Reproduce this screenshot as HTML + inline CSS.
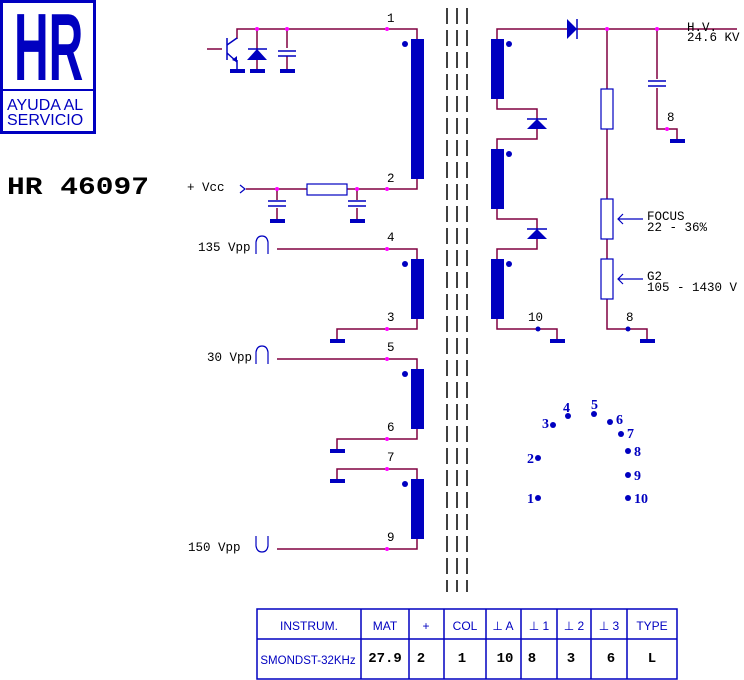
<!DOCTYPE html>
<html><head><meta charset="utf-8"><style>
body{margin:0;background:#fff}
svg{display:block}
.m{font-family:"Liberation Mono",monospace;font-size:12.5px;fill:#000}
.w{stroke:#800040;stroke-width:1.5;fill:none}
.b{fill:#0000c0}
.d{fill:#ff00ff}
.p{font-family:"Liberation Serif",serif;font-weight:bold;font-size:14px;fill:#0000c0}
.t{font-family:"Liberation Sans",sans-serif;font-size:12px;fill:#0000c0}
.n{font-family:"Liberation Mono",monospace;font-weight:bold;font-size:14px;fill:#000}
</style></head><body>
<svg width="744" height="680" viewBox="0 0 744 680">
<!-- logo -->
<rect x="1.5" y="1.5" width="93" height="131" fill="none" stroke="#0000c0" stroke-width="3"/>
<line x1="1" y1="90" x2="95" y2="90" stroke="#0000c0" stroke-width="2"/>
<text transform="translate(14,80) scale(0.5,1)" x="0" y="0" font-family="Liberation Sans,sans-serif" font-weight="bold" font-size="96" fill="#0000c0">HR</text>
<text x="7" y="110" font-family="Liberation Sans,sans-serif" font-size="16" fill="#0000c0">AYUDA AL</text>
<text x="7" y="125" font-family="Liberation Sans,sans-serif" font-size="16" fill="#0000c0">SERVICIO</text>
<text x="7" y="194" font-family="Liberation Mono,monospace" font-weight="bold" font-size="25" fill="#000" textLength="142" lengthAdjust="spacingAndGlyphs">HR 46097</text>

<!-- dashed core -->
<g stroke="#000" stroke-width="1.5" stroke-dasharray="16,6">
<line x1="447" y1="8" x2="447" y2="592"/><line x1="457" y1="8" x2="457" y2="592"/><line x1="467" y1="8" x2="467" y2="592"/>
</g>

<!-- primary -->
<path class="w" d="M237 39 V29 H417 V39 M417 179 V189 H246"/>
<line x1="207" y1="49" x2="222" y2="49" stroke="#800040" stroke-width="1.5"/>
<line x1="227" y1="38" x2="227" y2="60" stroke="#0000c0" stroke-width="1.5"/>
<line x1="227" y1="45" x2="237" y2="38" stroke="#0000c0" stroke-width="1.5"/>
<line x1="227" y1="53" x2="237" y2="62" stroke="#0000c0" stroke-width="1.5"/>
<polygon class="b" points="237,62 232,60 237,56"/>
<line x1="237" y1="60" x2="237" y2="69" stroke="#0000c0" stroke-width="1.5"/>
<rect class="b" x="230" y="69" width="15" height="4"/>
<line x1="257" y1="29" x2="257" y2="69" stroke="#800040" stroke-width="1.5"/>
<line x1="248" y1="49" x2="267" y2="49" stroke="#0000c0" stroke-width="1.5"/>
<polygon class="b" points="257,49 247,60 267,60"/>
<rect class="b" x="250" y="69" width="15" height="4"/>
<line x1="287" y1="29" x2="287" y2="69" stroke="#800040" stroke-width="1.5"/>
<rect x="277" y="48" width="20" height="8" fill="#fff"/>
<line x1="278" y1="51" x2="296" y2="51" stroke="#0000c0" stroke-width="1.5"/>
<line x1="278" y1="56" x2="296" y2="56" stroke="#0000c0" stroke-width="1.5"/>
<rect class="b" x="280" y="69" width="15" height="4"/>
<rect class="b" x="411" y="39" width="13" height="140"/>
<circle class="b" cx="405" cy="44" r="3"/>
<text class="m" x="387" y="22">1</text><text class="m" x="387" y="182">2</text>
<circle class="d" cx="257" cy="29" r="2"/><circle class="d" cx="287" cy="29" r="2"/><circle class="d" cx="387" cy="29" r="2"/>
<!-- Vcc -->
<text class="m" x="187" y="191">+ Vcc</text>
<path d="M240 185 L245 189 L240 193" stroke="#0000c0" stroke-width="1.2" fill="none"/>
<rect x="307" y="184" width="40" height="11" fill="#fff" stroke="#0000c0" stroke-width="1.2"/>
<path class="w" d="M277 189 V219 M357 189 V219"/>
<rect x="267" y="200" width="20" height="8" fill="#fff"/><rect x="347" y="200" width="20" height="8" fill="#fff"/>
<g stroke="#0000c0" stroke-width="1.5"><line x1="268" y1="201" x2="286" y2="201"/><line x1="268" y1="206" x2="286" y2="206"/><line x1="348" y1="201" x2="366" y2="201"/><line x1="348" y1="206" x2="366" y2="206"/></g>
<rect class="b" x="270" y="219" width="15" height="4"/><rect class="b" x="350" y="219" width="15" height="4"/>
<circle class="d" cx="277" cy="189" r="2"/><circle class="d" cx="357" cy="189" r="2"/><circle class="d" cx="387" cy="189" r="2"/>

<!-- winding 4-3 -->
<path class="w" d="M277 249 H417 V259 M417 319 V329 H337 V340"/>
<rect class="b" x="411" y="259" width="13" height="60"/><circle class="b" cx="405" cy="264" r="3"/>
<rect class="b" x="330" y="339" width="15" height="4"/>
<circle class="d" cx="387" cy="249" r="2"/><circle class="d" cx="387" cy="329" r="2"/>
<text class="m" x="387" y="241">4</text><text class="m" x="387" y="321">3</text>
<text class="m" x="198" y="251">135 Vpp</text>
<path d="M256 254 V242 Q257 236 262 236 Q267 236 268 242 V254" stroke="#0000c0" stroke-width="1.2" fill="none"/>
<!-- winding 5-6 -->
<path class="w" d="M277 359 H417 V369 M417 429 V439 H337 V450"/>
<rect class="b" x="411" y="369" width="13" height="60"/><circle class="b" cx="405" cy="374" r="3"/>
<rect class="b" x="330" y="449" width="15" height="4"/>
<circle class="d" cx="387" cy="359" r="2"/><circle class="d" cx="387" cy="439" r="2"/>
<text class="m" x="387" y="351">5</text><text class="m" x="387" y="431">6</text>
<text class="m" x="207" y="361">30 Vpp</text>
<path d="M256 364 V352 Q257 346 262 346 Q267 346 268 352 V364" stroke="#0000c0" stroke-width="1.2" fill="none"/>
<!-- winding 7-9 -->
<path class="w" d="M337 480 V469 H417 V479 M417 539 V549 H277"/>
<rect class="b" x="411" y="479" width="13" height="60"/><circle class="b" cx="405" cy="484" r="3"/>
<rect class="b" x="330" y="479" width="15" height="4"/>
<circle class="d" cx="387" cy="469" r="2"/><circle class="d" cx="387" cy="549" r="2"/>
<text class="m" x="387" y="461">7</text><text class="m" x="387" y="541">9</text>
<text class="m" x="188" y="551">150 Vpp</text>
<path d="M256 536 V546 Q257 552 262 552 Q267 552 268 546 V536" stroke="#0000c0" stroke-width="1.2" fill="none"/>

<!-- secondary -->
<path class="w" d="M497 39 V29 H737 M497 99 V109 H537 V139 H497 V149 M497 209 V219 H537 V249 H497 V259 M497 319 V329 H557 V340"/>
<rect class="b" x="491" y="39" width="13" height="60"/><rect class="b" x="491" y="149" width="13" height="60"/><rect class="b" x="491" y="259" width="13" height="60"/>
<circle class="b" cx="509" cy="44" r="3"/><circle class="b" cx="509" cy="154" r="3"/><circle class="b" cx="509" cy="264" r="3"/>
<polygon class="b" points="567,19 577,29 567,39"/><line x1="577" y1="19" x2="577" y2="39" stroke="#0000c0" stroke-width="1.5"/>
<line x1="527" y1="119" x2="547" y2="119" stroke="#0000c0" stroke-width="1.5"/><polygon class="b" points="537,119 527,129 547,129"/>
<line x1="527" y1="229" x2="547" y2="229" stroke="#0000c0" stroke-width="1.5"/><polygon class="b" points="537,229 527,239 547,239"/>
<rect class="b" x="550" y="339" width="15" height="4"/>
<circle class="b" cx="538" cy="329" r="2.5"/>
<text class="m" x="528" y="321">10</text>
<!-- resistor chain -->
<path class="w" d="M607 29 V329 H647 V340"/>
<rect x="601" y="89" width="12" height="40" fill="#fff" stroke="#0000c0" stroke-width="1.2"/>
<rect x="601" y="199" width="12" height="40" fill="#fff" stroke="#0000c0" stroke-width="1.2"/>
<rect x="601" y="259" width="12" height="40" fill="#fff" stroke="#0000c0" stroke-width="1.2"/>
<path d="M643 219 H618 M623 214 L618 219 L623 224 M643 279 H618 M623 274 L618 279 L623 284" stroke="#0000c0" stroke-width="1.2" fill="none"/>
<rect class="b" x="640" y="339" width="15" height="4"/>
<circle class="b" cx="628" cy="329" r="2.5"/><text class="m" x="626" y="321">8</text>
<circle class="d" cx="607" cy="29" r="2"/>
<!-- cap -->
<path class="w" d="M657 29 V129 H677 V140"/>
<rect x="647" y="79" width="20" height="9" fill="#fff"/>
<g stroke="#0000c0" stroke-width="1.5"><line x1="648" y1="81" x2="666" y2="81"/><line x1="648" y1="86" x2="666" y2="86"/></g>
<rect class="b" x="670" y="139" width="15" height="4"/>
<circle class="d" cx="657" cy="29" r="2"/><circle class="d" cx="667" cy="129" r="2"/>
<text class="m" x="667" y="121">8</text>
<text class="m" x="687" y="31">H.V.</text><text class="m" x="687" y="41">24.6 KV</text>
<text class="m" x="647" y="220">FOCUS</text><text class="m" x="647" y="231">22 - 36%</text>
<text class="m" x="647" y="280">G2</text><text class="m" x="647" y="291">105 - 1430 V</text>

<!-- pinout -->
<g class="b">
<circle cx="538" cy="498" r="3"/><circle cx="538" cy="458" r="3"/><circle cx="553" cy="425" r="3"/><circle cx="568" cy="416" r="3"/><circle cx="594" cy="414" r="3"/><circle cx="610" cy="422" r="3"/><circle cx="621" cy="434" r="3"/><circle cx="628" cy="451" r="3"/><circle cx="628" cy="475" r="3"/><circle cx="628" cy="498" r="3"/>
</g>
<text class="p" x="527" y="503">1</text><text class="p" x="527" y="463">2</text><text class="p" x="542" y="428">3</text><text class="p" x="563" y="412">4</text><text class="p" x="591" y="409">5</text><text class="p" x="616" y="424">6</text><text class="p" x="627" y="438">7</text><text class="p" x="634" y="456">8</text><text class="p" x="634" y="480">9</text><text class="p" x="634" y="503">10</text>

<!-- table -->
<g stroke="#0000c0" stroke-width="1.5" fill="none">
<rect x="257" y="609" width="420" height="70"/>
<line x1="257" y1="639" x2="677" y2="639"/>
<line x1="361" y1="609" x2="361" y2="679"/><line x1="409" y1="609" x2="409" y2="679"/><line x1="444" y1="609" x2="444" y2="679"/><line x1="486" y1="609" x2="486" y2="679"/><line x1="521" y1="609" x2="521" y2="679"/><line x1="557" y1="609" x2="557" y2="679"/><line x1="591" y1="609" x2="591" y2="679"/><line x1="627" y1="609" x2="627" y2="679"/>
</g>
<g class="t" text-anchor="middle">
<text x="309" y="630">INSTRUM.</text><text x="385" y="630">MAT</text><text x="426" y="630">+</text><text x="465" y="630">COL</text><text x="503" y="630">⊥ A</text><text x="539" y="630">⊥ 1</text><text x="574" y="630">⊥ 2</text><text x="609" y="630">⊥ 3</text><text x="652" y="630">TYPE</text>
<text x="308" y="664" font-size="11.5">SMONDST-32KHz</text>
</g>
<g class="n" text-anchor="middle">
<text x="385" y="662">27.9</text><text x="421" y="662">2</text><text x="462" y="662">1</text><text x="505" y="662">10</text><text x="532" y="662">8</text><text x="571" y="662">3</text><text x="611" y="662">6</text><text x="652" y="662">L</text>
</g>
</svg>
</body></html>
